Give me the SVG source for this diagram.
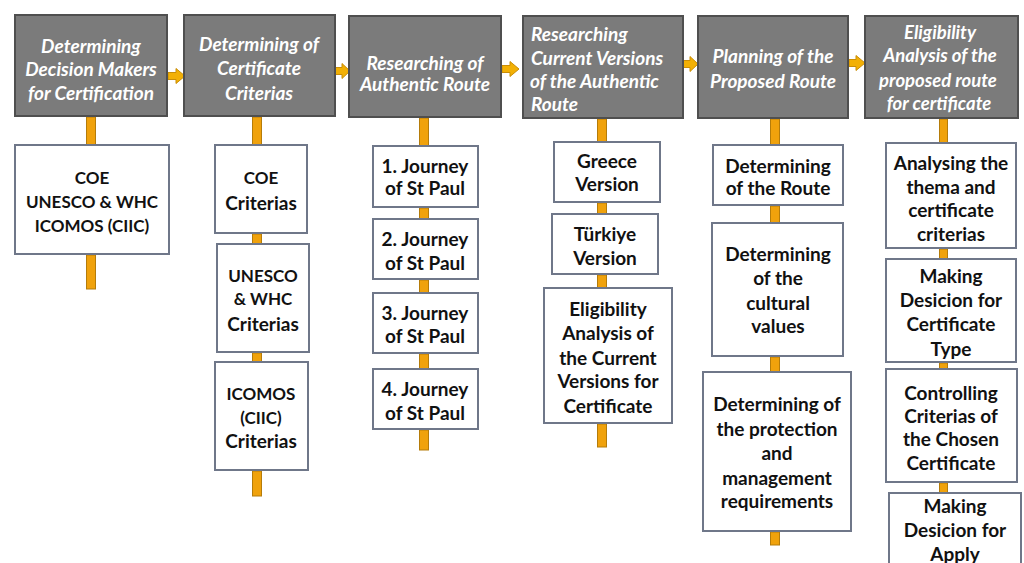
<svg xmlns="http://www.w3.org/2000/svg" width="1024" height="563" viewBox="0 0 1024 563">
<defs>
<style>
.hdr{fill:#7b7b7b;stroke:#4f4f4f;stroke-width:2}
.box{fill:#ffffff;stroke:#6f7789;stroke-width:2}
.ht{font-family:Lato,"Open Sans",sans-serif;font-style:italic;font-weight:700;font-size:19px;fill:#ffffff;text-anchor:middle;dominant-baseline:central}
.h6{font-size:18.5px}
.htl{text-anchor:start}
.bt{font-family:Lato,"Open Sans",sans-serif;font-weight:700;font-size:19px;fill:#111111;text-anchor:middle;dominant-baseline:central}
.cap{font-size:17px}
.vc{fill:#f0a20c;stroke:#b57c0a;stroke-width:1}
.ar{fill:#f2b005;stroke:#c98d06;stroke-width:1}
</style>
</defs>
<rect width="1024" height="563" fill="#ffffff"/>
<g id="connectors">
<path class="ar" d="M168,72.5 H176 V68.5 L185,76 L176,83.5 V79.5 H168 Z"/>
<path class="ar" d="M335,67.5 H342 V63.5 L350,71 L342,78.5 V74.5 H335 Z"/>
<path class="ar" d="M502,65.5 H510 V61.5 L519,69 L510,76.5 V72.5 H502 Z"/>
<path class="ar" d="M683,60.5 H690 V56.5 L698,64 L690,71.5 V67.5 H683 Z"/>
<path class="ar" d="M849,59.5 H856 V55.5 L865,63 L856,70.5 V66.5 H849 Z"/>
<rect class="vc" x="86.5" y="117" width="9" height="28"/>
<rect class="vc" x="86.5" y="255" width="9" height="34"/>
<rect class="vc" x="252.5" y="117" width="9" height="28"/>
<rect class="vc" x="252.5" y="234" width="9" height="10"/>
<rect class="vc" x="252.5" y="353" width="9" height="9"/>
<rect class="vc" x="252.5" y="471" width="9" height="25"/>
<rect class="vc" x="419.5" y="118" width="9" height="28"/>
<rect class="vc" x="419.5" y="208" width="9" height="11"/>
<rect class="vc" x="419.5" y="280" width="9" height="13"/>
<rect class="vc" x="419.5" y="354" width="9" height="15"/>
<rect class="vc" x="419.5" y="430" width="9" height="20"/>
<rect class="vc" x="597.5" y="119" width="9" height="23"/>
<rect class="vc" x="597.5" y="203" width="9" height="11"/>
<rect class="vc" x="597.5" y="275" width="9" height="13"/>
<rect class="vc" x="597.5" y="424" width="9" height="23"/>
<rect class="vc" x="770.5" y="119" width="9" height="26"/>
<rect class="vc" x="770.5" y="206" width="9" height="17"/>
<rect class="vc" x="770.5" y="357" width="9" height="15"/>
<rect class="vc" x="770.5" y="532" width="9" height="13"/>
<rect class="vc" x="939.5" y="119" width="8" height="24"/>
<rect class="vc" x="939.5" y="249" width="8" height="10"/>
<rect class="vc" x="939.5" y="363" width="8" height="6"/>
<rect class="vc" x="939.5" y="483" width="8" height="10"/>
</g>

<g id="h1"><rect class="hdr" x="15" y="15" width="152" height="101"/>
<text class="ht" x="91" y="45">Determining</text><text class="ht" x="91" y="68">Decision Makers</text><text class="ht" x="91" y="92">for Certification</text></g>
<g id="h2"><rect class="hdr" x="184" y="15" width="151" height="101"/>
<text class="ht" x="259" y="43">Determining of</text><text class="ht" x="259" y="67">Certificate</text><text class="ht" x="259" y="92">Criterias</text></g>
<g id="h3"><rect class="hdr" x="349" y="16" width="152" height="101"/>
<text class="ht" x="425" y="62">Researching of</text><text class="ht" x="425" y="83">Authentic Route</text></g>
<g id="h4"><rect class="hdr" x="523" y="16" width="160" height="102"/>
<text class="ht htl" x="531" y="33">Researching</text><text class="ht htl" x="531" y="57">Current Versions</text><text class="ht htl" x="530" y="80">of the Authentic</text><text class="ht htl" x="531" y="103">Route</text></g>
<g id="h5"><rect class="hdr" x="698" y="16" width="150" height="102"/>
<text class="ht" x="773" y="55">Planning of the</text><text class="ht" x="773" y="80">Proposed Route</text></g>
<g id="h6"><rect class="hdr" x="865" y="16" width="153" height="102"/>
<text class="ht h6" x="940" y="32">Eligibility</text><text class="ht h6" x="940" y="55">Analysis of the</text><text class="ht h6" x="938" y="80">proposed route</text><text class="ht h6" x="939" y="103">for certificate</text></g>

<g id="c1b1"><rect class="box" x="15" y="145" width="154" height="109"/>
<text class="bt cap" x="92" y="177">COE</text><text class="bt cap" x="92" y="201">UNESCO &amp; WHC</text><text class="bt cap" x="92" y="225">ICOMOS (CIIC)</text></g>
<g id="c2b1"><rect class="box" x="215" y="145" width="92" height="88"/>
<text class="bt cap" x="261" y="177">COE</text><text class="bt" x="261" y="202">Criterias</text></g>
<g id="c2b2"><rect class="box" x="217" y="244" width="92" height="108"/>
<text class="bt cap" x="263" y="275">UNESCO</text><text class="bt cap" x="263" y="298">&amp; WHC</text><text class="bt" x="263" y="323">Criterias</text></g>
<g id="c2b3"><rect class="box" x="215" y="362" width="93" height="108"/>
<text class="bt cap" x="261" y="393">ICOMOS</text><text class="bt cap" x="261" y="417">(CIIC)</text><text class="bt" x="261" y="440">Criterias</text></g>
<g id="c3b1"><rect class="box" x="373" y="146" width="105" height="61"/>
<text class="bt" x="425" y="165">1. Journey</text><text class="bt" x="425" y="187">of St Paul</text></g>
<g id="c3b2"><rect class="box" x="373" y="219" width="105" height="60"/>
<text class="bt" x="425" y="238">2. Journey</text><text class="bt" x="425" y="262">of St Paul</text></g>
<g id="c3b3"><rect class="box" x="373" y="293" width="105" height="60"/>
<text class="bt" x="425" y="312">3. Journey</text><text class="bt" x="425" y="335">of St Paul</text></g>
<g id="c3b4"><rect class="box" x="373" y="369" width="105" height="60"/>
<text class="bt" x="425" y="388">4. Journey</text><text class="bt" x="425" y="412">of St Paul</text></g>
<g id="c4b1"><rect class="box" x="554" y="142" width="106" height="60"/>
<text class="bt" x="607" y="160">Greece</text><text class="bt" x="607" y="183">Version</text></g>
<g id="c4b2"><rect class="box" x="552" y="214" width="106" height="60"/>
<text class="bt" x="605" y="233">Türkiye</text><text class="bt" x="605" y="257">Version</text></g>
<g id="c4b3"><rect class="box" x="544" y="288" width="128" height="135"/>
<text class="bt" x="608" y="308">Eligibility</text><text class="bt" x="608" y="332">Analysis of</text><text class="bt" x="608" y="357">the Current</text><text class="bt" x="608" y="380">Versions for</text><text class="bt" x="608" y="405">Certificate</text></g>
<g id="c5b1"><rect class="box" x="713" y="145" width="130" height="60"/>
<text class="bt" x="778" y="165">Determining</text><text class="bt" x="778" y="187">of the Route</text></g>
<g id="c5b2"><rect class="box" x="712" y="223" width="131" height="133"/>
<text class="bt" x="778" y="253">Determining</text><text class="bt" x="778" y="277">of the</text><text class="bt" x="778" y="302">cultural</text><text class="bt" x="778" y="325">values</text></g>
<g id="c5b3"><rect class="box" x="703" y="372" width="148" height="159"/>
<text class="bt" x="777" y="403">Determining of</text><text class="bt" x="777" y="428">the protection</text><text class="bt" x="777" y="452">and</text><text class="bt" x="777" y="477">management</text><text class="bt" x="777" y="500">requirements</text></g>
<g id="c6b1"><rect class="box" x="886" y="143" width="130" height="105"/>
<text class="bt" x="951" y="162">Analysing the</text><text class="bt" x="951" y="186">thema and</text><text class="bt" x="951" y="209">certificate</text><text class="bt" x="951" y="233">criterias</text></g>
<g id="c6b2"><rect class="box" x="886" y="259" width="130" height="103"/>
<text class="bt" x="951" y="275">Making</text><text class="bt" x="951" y="299">Desicion for</text><text class="bt" x="951" y="323">Certificate</text><text class="bt" x="951" y="348">Type</text></g>
<g id="c6b3"><rect class="box" x="886" y="369" width="131" height="113"/>
<text class="bt" x="951" y="392">Controlling</text><text class="bt" x="951" y="415">Criterias of</text><text class="bt" x="951" y="438">the Chosen</text><text class="bt" x="951" y="462">Certificate</text></g>
<g id="c6b4"><rect class="box" x="889" y="493" width="132" height="80"/>
<text class="bt" x="955" y="505">Making</text><text class="bt" x="955" y="529">Desicion for</text><text class="bt" x="955" y="553">Apply</text></g>
</svg>
